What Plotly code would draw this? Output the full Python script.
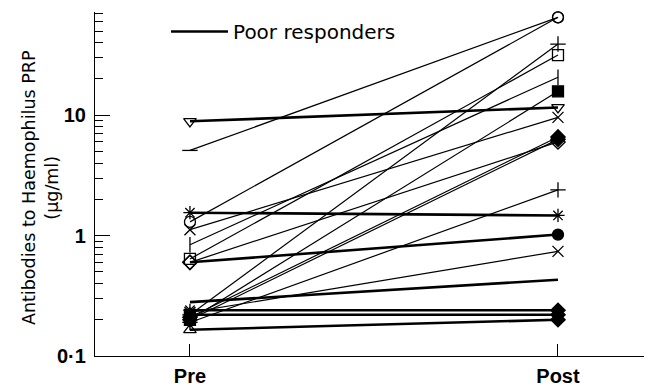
import math
import plotly.graph_objects as go

# ---------------- data ----------------
phase_labels = ["Pre", "Post"]
pre_values = [8.9, 5.1, 1.55, 1.3, 1.12, 0.84, 0.64, 0.6, 0.6, 0.28,
              0.24, 0.22, 0.165, 0.22, 0.2, 0.21, 0.2, 0.19, 0.23]
post_values = [11.6, 65, 1.47, 65, 9.6, 20.7, 31.6, 1.02, 6.0, 0.43,
               0.24, 0.22, 0.2, 39, 15.8, 6.6, 6.3, 2.4, 0.74]
poor_responder = [1, 0, 1, 0, 0, 0, 0, 1, 0, 1,
                  1, 1, 1, 0, 0, 0, 0, 0, 0]
y_tick_values = [0.1, 1, 10]
y_tick_labels = ["0·1", "1", "10"]
legend_label = "Poor responders"
y_title = "Antibodies to Haemophilus PRP<br>(µg/ml)"

# ---------------- styles ----------------
pre_symbols = ["triangle-down-open", "line-ew-open", "asterisk-open", "circle-open",
               "x-thin-open", "line-ns-open", "square-open", "diamond-open",
               "diamond-open", None, "asterisk-open", "square", "triangle-up-open",
               "cross-thin-open", "square", "diamond", "diamond", "cross-thin-open",
               "x-thin-open"]
post_symbols = ["triangle-down-open", "circle-open", "asterisk-open", "circle-open",
                "x-thin-open", "line-ns-open", "square-open", "circle",
                "diamond-open", None, "diamond", "diamond", "diamond",
                "cross-thin-open", "square", "diamond", "diamond", "cross-thin-open",
                "x-thin-open"]

ARIAL = "Liberation Sans, Arial, Helvetica, sans-serif"
DEJAVU = "DejaVu Sans, Liberation Sans, sans-serif"
THIN, THICK = 1.2, 2.6

fig = go.Figure()
phase_x = list(range(len(phase_labels)))

for i in range(len(pre_values)):
    syms = [pre_symbols[i], post_symbols[i]]
    has_marker = syms[0] is not None
    fig.add_trace(go.Scatter(
        x=phase_x,
        y=[pre_values[i], post_values[i]],
        mode="lines+markers" if has_marker else "lines",
        line=dict(color="black", width=THICK if poor_responder[i] else THIN),
        marker=dict(symbol=syms if has_marker else "circle", size=11, color="black",
                    line=dict(color="black", width=1.3)),
        showlegend=False,
        cliponaxis=False,
        hoverinfo="skip",
    ))

# legend entry for poor responders
fig.add_trace(go.Scatter(x=[None], y=[None], mode="lines",
                         line=dict(color="black", width=THICK),
                         name=legend_label, showlegend=True))

minor_vals = [m * 10 ** e for e in (-1, 0, 1) for m in range(2, 10) if m * 10 ** e <= 72]

# the page body has an 8px default margin, so the figure is sized to fit the window
fig.update_layout(
    width=644, height=381,
    margin=dict(l=87, r=2, t=4, b=33, autoexpand=False),
    paper_bgcolor="white", plot_bgcolor="white",
    font=dict(family=ARIAL, size=17, color="black"),
    showlegend=True,
    legend=dict(x=0.128, y=1.0, xanchor="left", yanchor="top",
                bgcolor="rgba(0,0,0,0)", itemwidth=57,
                font=dict(family=DEJAVU, size=20, color="black")),
    xaxis=dict(
        range=[-0.258, 1.25],
        tickvals=phase_x, ticktext=phase_labels,
        ticks="inside", ticklen=12, tickwidth=1.2, tickcolor="black",
        showline=True, linecolor="black", linewidth=1.2,
        showgrid=False, zeroline=False, automargin=False,
        tickfont=dict(family=ARIAL, size=20, color="black", weight="bold"),
        ticklabelstandoff=2,
    ),
    yaxis=dict(
        type="log",
        range=[-1, math.log10(72)],
        tickvals=y_tick_values, ticktext=y_tick_labels,
        ticks="inside", ticklen=15, tickwidth=1.2, tickcolor="black",
        minor=dict(tickvals=minor_vals, ticks="inside", ticklen=8,
                   tickwidth=1.2, tickcolor="black", showgrid=False),
        showline=True, linecolor="black", linewidth=1.2,
        showgrid=False, zeroline=False, automargin=False,
        tickfont=dict(family=ARIAL, size=20, color="black", weight="bold"),
        ticklabelstandoff=4,
    ),
    annotations=[dict(
        text=y_title, textangle=-90,
        xref="paper", yref="paper", x=-0.098, y=0.49,
        xanchor="center", yanchor="middle", showarrow=False,
        font=dict(family=DEJAVU, size=17.5, color="black"),
    )],
)

fig.write_html("out.html")
